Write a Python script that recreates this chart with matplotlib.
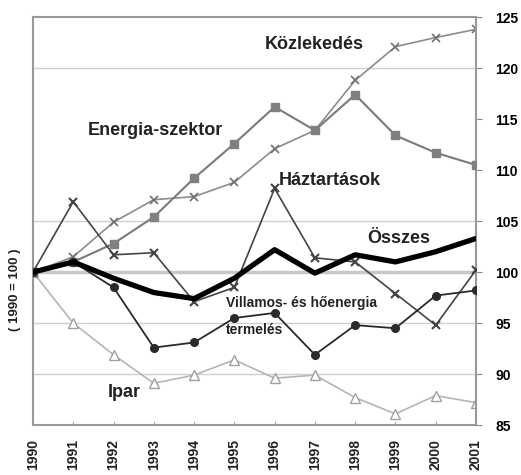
import matplotlib
matplotlib.use("Agg")
import matplotlib.pyplot as plt

plt.rcParams["font.family"] = ["Liberation Sans", "DejaVu Sans"]

# évek és indexek (1990 = 100)
evek = list(range(1990, 2002))
kozlekedes = [100, 101.5, 104.9, 107.1, 107.4, 108.8, 112.1, 113.9, 118.8, 122.1, 123.0, 123.8]
energia = [100, 101.0, 102.8, 105.4, 109.2, 112.6, 116.2, 113.9, 117.4, 113.4, 111.7, 110.5]
haztartas = [100, 106.9, 101.7, 101.9, 97.1, 98.5, 108.2, 101.4, 101.0, 97.9, 94.8, 100.2]
villamos = [100, 101.0, 98.5, 92.6, 93.1, 95.5, 96.0, 91.9, 94.8, 94.5, 97.7, 98.2]
ipar = [100, 95.0, 91.9, 89.1, 89.9, 91.4, 89.6, 89.9, 87.7, 86.1, 87.9, 87.2]
osszes = [100, 101.0, 99.4, 98.0, 97.4, 99.4, 102.2, 99.9, 101.7, 101.0, 102.0, 103.3]

fig = plt.figure(figsize=(5.21, 4.75), dpi=100)
ax = fig.add_axes([0.0633, 0.105, 0.8503, 0.859])

# vízszintes rácsvonalak
for y in [90, 95, 105, 120]:
    ax.axhline(y, color="#d0d0d0", lw=1, zorder=0)
ax.axhline(100, color="#c8c8c8", lw=2.5, zorder=0)

ax.plot(evek, ipar, color="#b5b5b5", lw=1.2, marker="^", ms=6.5,
        mfc="white", mec="#a0a0a0", mew=1, zorder=2)
ax.plot(evek, kozlekedes, color="#8c8c8c", lw=1.2, marker="x", ms=6,
        mec="#707070", mew=1.2, zorder=2)
ax.plot(evek, energia, color="#7a7a7a", lw=1.5, marker="s", ms=5.5,
        mfc="#808080", mec="#808080", zorder=3)
ax.plot(evek, haztartas, color="#444444", lw=1.2, marker="x", ms=6,
        mec="#444444", mew=1.5, zorder=3)
ax.plot(evek, villamos, color="#2a2a2a", lw=1.3, marker="o", ms=5.5,
        mfc="#2a2a2a", mec="#2a2a2a", zorder=3)
ax.plot(evek, osszes, color="black", lw=3.8, solid_joinstyle="round",
        solid_capstyle="round", zorder=4)

ax.set_xlim(1990, 2001)
ax.set_ylim(85, 125)
ax.set_xticks(evek)
ax.set_xticklabels([str(e) for e in evek], rotation=90, fontsize=10,
                   fontweight="bold", color="#222222")
ax.yaxis.tick_right()
ax.set_yticks(range(85, 126, 5))
ax.tick_params(axis="y", labelsize=10, length=4, color="#888888", pad=10)
for t in ax.get_yticklabels():
    t.set_fontweight("bold")
ax.tick_params(axis="x", length=3, direction="in", color="#aaaaaa", pad=10)
for s in ax.spines.values():
    s.set_color("#999999")
    s.set_linewidth(1.5)

fig.text(0.029, 0.39, "( 1990 = 100 )", rotation=90, ha="center", va="center",
         fontsize=9.5, fontweight="bold", color="#222222")

szoveg = dict(fontweight="bold", color="#222222", ha="left", va="center")
ax.text(1995.75, 122.3, "Közlekedés", fontsize=13, **szoveg)
ax.text(1991.35, 113.9, "Energia-szektor", fontsize=13, **szoveg)
ax.text(1996.1, 109.0, "Háztartások", fontsize=13, **szoveg)
ax.text(1998.3, 103.3, "Összes", fontsize=13, **szoveg)
ax.text(1994.8, 96.95, "Villamos- és hőenergia", fontsize=10, **szoveg)
ax.text(1994.8, 94.35, "termelés", fontsize=10, **szoveg)
ax.text(1991.85, 88.2, "Ipar", fontsize=13, **szoveg)

fig.savefig("out.png", dpi=100)
